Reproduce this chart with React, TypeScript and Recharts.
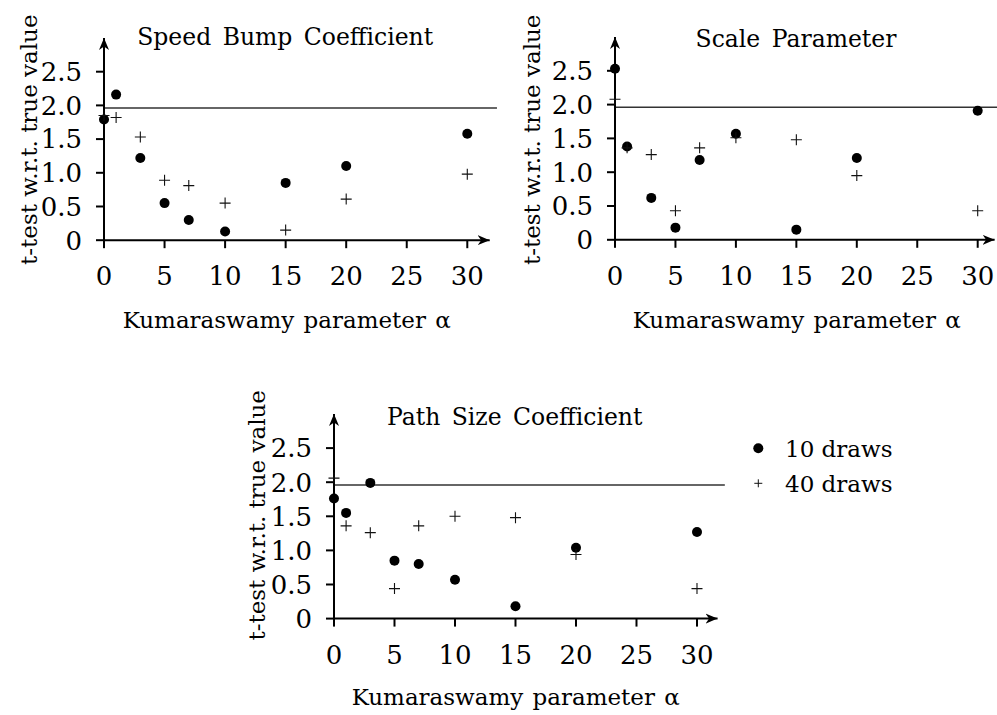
import React from 'react';
import { ScatterChart, Scatter, XAxis, YAxis, ReferenceLine, Legend } from 'recharts';

// ---- data ----
const alphaValues = [0, 1, 3, 5, 7, 10, 15, 20, 30];
const speedBump10 = [1.79, 2.16, 1.22, 0.55, 0.3, 0.13, 0.85, 1.1, 1.58];
const speedBump40 = [1.85, 1.82, 1.53, 0.89, 0.81, 0.55, 0.15, 0.61, 0.98];
const scale10 = [2.53, 1.38, 0.62, 0.18, 1.18, 1.57, 0.15, 1.21, 1.91];
const scale40 = [2.08, 1.36, 1.26, 0.43, 1.36, 1.51, 1.48, 0.95, 0.43];
const pathSize10 = [1.76, 1.55, 1.99, 0.85, 0.8, 0.57, 0.18, 1.04, 1.27];
const pathSize40 = [2.06, 1.36, 1.26, 0.44, 1.36, 1.5, 1.48, 0.94, 0.44];

const xTicks = [0, 5, 10, 15, 20, 25, 30];
const yTicks = [0, 0.5, 1, 1.5, 2, 2.5];
const yTickLabels = ['0', '0.5', '1.0', '1.5', '2.0', '2.5'];
const criticalValue = 1.96;
const seriesNames = ['10 draws', '40 draws'];
const panelTitles = ['Speed Bump Coefficient', 'Scale Parameter', 'Path Size Coefficient'];
const xAxisTitle = 'Kumaraswamy parameter \u03B1';
const yAxisTitle = 't-test w.r.t. true value';

const FONT = '"DejaVu Serif", serif';
const TICK_FS = 26;

const toPoints = (vals: number[]) => alphaValues.map((a, i) => ({ x: a, y: vals[i] }));

const DotShape = (p: any) => <circle cx={p.cx} cy={p.cy} r={5} fill="#000" />;
const PlusShape = (p: any) => (
  <path
    d={`M${p.cx - 5.5},${p.cy}H${p.cx + 5.5}M${p.cx},${p.cy - 5.5}V${p.cy + 5.5}`}
    stroke="#111"
    strokeWidth={1.1}
    fill="none"
  />
);

const PAD_L = 100;
const PAD_T = 45;
const PAD_R = 30;
const PAD_B = 100;
const Y_AXIS_W = 70;
const X_AXIS_H = 60;

type PanelProps = {
  id: string;
  title: string;
  d10: number[];
  d40: number[];
  plotLeft: number;
  plotBottom: number;
  xUnit: number;
  yUnit: number;
  xMax: number;
  titlePos: [number, number];
  xLabelPos: [number, number];
  yLabelPos: [number, number];
  legend?: boolean;
};

const LegendContent = (props: any) => {
  const payload = props.payload || [];
  return (
    <svg width={170} height={70} style={{ display: 'block' }}>
      {payload.map((entry: any, i: number) => {
        const cy = i === 0 ? 16.3 : 51.3;
        const baseline = i === 0 ? 24.7 : 59.7;
        return (
          <g key={i}>
            {i === 0 ? (
              <circle cx={13.3} cy={cy} r={5} fill="#000" />
            ) : (
              <path d={`M9.3,${cy}H17.3M13.3,${cy - 4}V${cy + 4}`} stroke="#111" strokeWidth={1} />
            )}
            <text x={40} y={baseline} fontSize={23} fontFamily={FONT} fill="#000">
              {entry.value}
            </text>
          </g>
        );
      })}
    </svg>
  );
};

const XTick = (props: any) => {
  const { x, y, payload } = props;
  return (
    <text x={x} y={y} dy={TICK_FS * 0.73} textAnchor="middle" fontSize={TICK_FS} fontFamily={FONT} fill="#000">
      {payload.value}
    </text>
  );
};

const YTick = (props: any) => {
  const { x, y, payload } = props;
  const label = yTickLabels[yTicks.indexOf(payload.value)] ?? String(payload.value);
  return (
    <text x={x} y={y} dy={TICK_FS * 0.36} textAnchor="end" fontSize={TICK_FS} fontFamily={FONT} fill="#000">
      {label}
    </text>
  );
};

function Panel(p: PanelProps) {
  const plotW = p.xMax * p.xUnit;
  const plotH = 3 * p.yUnit;
  const plotTop = p.plotBottom - plotH;
  const width = plotW + PAD_L + PAD_R;
  const height = plotH + PAD_T + PAD_B;
  const left = p.plotLeft - PAD_L;
  const top = plotTop - PAD_T;
  const markerId = `arrow-${p.id}`;
  const tx = p.titlePos[0] - left;
  const ty = p.titlePos[1] - top;
  const lx = p.xLabelPos[0] - left;
  const ly = p.xLabelPos[1] - top;
  const yx = p.yLabelPos[0] - left;
  const yy = p.yLabelPos[1] - top;
  return (
    <div style={{ position: 'absolute', left, top, width, height }}>
      <ScatterChart
        width={width}
        height={height}
        margin={{ top: PAD_T, left: PAD_L - Y_AXIS_W, right: PAD_R, bottom: PAD_B - X_AXIS_H }}
      >
        <defs>
          <marker
            id={markerId}
            markerWidth={14}
            markerHeight={12}
            refX={12}
            refY={6}
            orient="auto-start-reverse"
            markerUnits="userSpaceOnUse"
          >
            <path d="M0,1 L12,6 L0,11 L3.5,6 Z" fill="#000" />
          </marker>
        </defs>
        <XAxis
          type="number"
          dataKey="x"
          domain={[0, p.xMax]}
          ticks={xTicks}
          interval={0}
          height={X_AXIS_H}
          tickSize={8}
          tickMargin={18}
          axisLine={{ stroke: '#000', strokeWidth: 2, markerEnd: `url(#${markerId})` }}
          tickLine={{ stroke: '#000', strokeWidth: 2 }}
          tick={XTick}
        />
        <YAxis
          type="number"
          dataKey="y"
          domain={[0, 3]}
          ticks={yTicks}
          interval={0}
          width={Y_AXIS_W}
          tickSize={8}
          tickMargin={14}
          axisLine={{ stroke: '#000', strokeWidth: 2, markerStart: `url(#${markerId})` }}
          tickLine={{ stroke: '#000', strokeWidth: 2 }}
          tick={YTick}
        />
        <ReferenceLine
          segment={[
            { x: 0, y: criticalValue },
            { x: p.xMax + 0.6, y: criticalValue },
          ]}
          stroke="#333"
          strokeWidth={1.5}
          ifOverflow="visible"
        />
        <Scatter name={seriesNames[0]} data={toPoints(p.d10)} shape={DotShape} isAnimationActive={false} />
        <Scatter name={seriesNames[1]} data={toPoints(p.d40)} shape={PlusShape} isAnimationActive={false} />
        {p.legend && (
          <Legend
            layout="vertical"
            align="center"
            verticalAlign="middle"
            content={LegendContent}
            wrapperStyle={{ position: 'absolute', left: 745 - left, top: 432 - top, width: 170, height: 70 }}
          />
        )}
        <text x={tx} y={ty} textAnchor="middle" fontSize={23.5} wordSpacing={4} fontFamily={FONT} fill="#000">
          {p.title}
        </text>
        <text x={lx} y={ly} textAnchor="middle" fontSize={23} wordSpacing={2} fontFamily={FONT} fill="#000">
          {xAxisTitle}
        </text>
        <text
          x={yx}
          y={yy}
          textAnchor="middle"
          fontSize={23}
          fontFamily={FONT}
          fill="#000"
          transform={`rotate(-90 ${yx} ${yy})`}
        >
          {yAxisTitle}
        </text>
      </ScatterChart>
    </div>
  );
}

export default function App() {
  return (
    <div
      style={{
        position: 'absolute',
        left: 0,
        top: 0,
        width: 997,
        height: 715,
        overflow: 'hidden',
        background: '#fff',
      }}
    >
      <Panel
        id="p1"
        title={panelTitles[0]}
        d10={speedBump10}
        d40={speedBump40}
        plotLeft={104.3}
        plotBottom={240}
        xUnit={12.11}
        yUnit={67.4}
        xMax={31.85}
        titlePos={[285.5, 45]}
        xLabelPos={[287, 328]}
        yLabelPos={[37, 139.5]}
      />
      <Panel
        id="p2"
        title={panelTitles[1]}
        d10={scale10}
        d40={scale40}
        plotLeft={615}
        plotBottom={240}
        xUnit={12.09}
        yUnit={67.6}
        xMax={31.4}
        titlePos={[796, 47]}
        xLabelPos={[796.7, 328]}
        yLabelPos={[540, 140]}
      />
      <Panel
        id="p3"
        title={panelTitles[2]}
        d10={pathSize10}
        d40={pathSize40}
        plotLeft={334.3}
        plotBottom={618.3}
        xUnit={12.1}
        yUnit={68.2}
        xMax={31.7}
        titlePos={[515, 424.3]}
        xLabelPos={[516, 705]}
        yLabelPos={[265, 515]}
        legend
      />
    </div>
  );
}
